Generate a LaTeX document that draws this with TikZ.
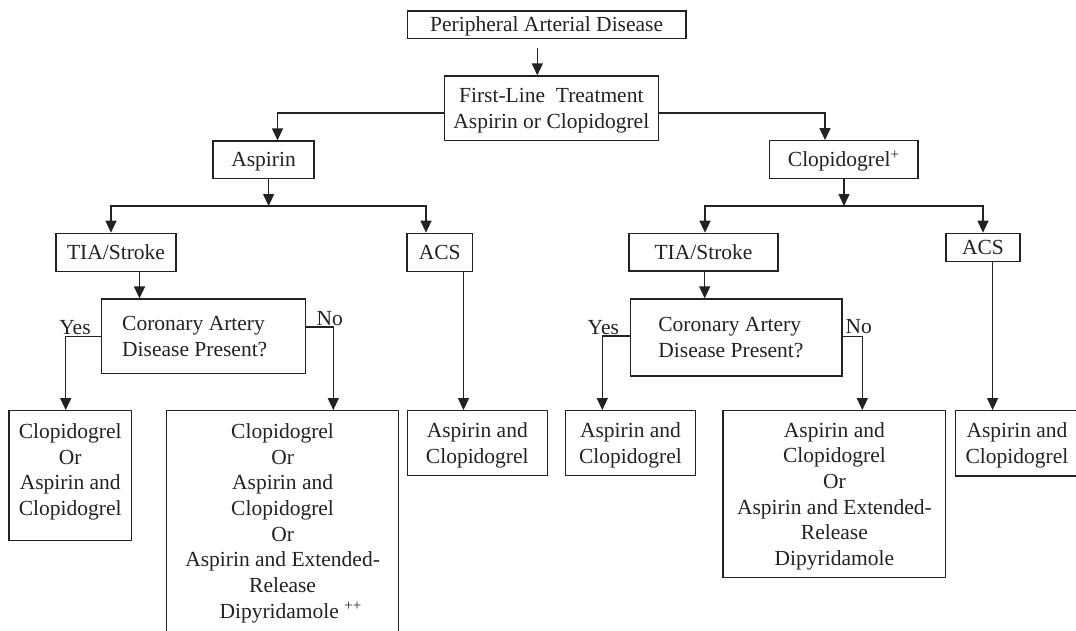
\documentclass[tikz,border=0pt]{standalone}
\usepackage{fontspec}
\setmainfont{Liberation Serif}
\usetikzlibrary{arrows.meta}
\definecolor{ink}{HTML}{222222}
\newcommand\fs{\fontsize{21.5}{25.7}\selectfont}
\begin{document}
\begin{tikzpicture}[x=1pt,y=-1pt,
  box/.style={draw=ink, line width=1.3pt, inner sep=0pt, font=\fs, align=center, text=ink},
  txt/.style={inner sep=0pt, font=\fs, align=center, text=ink},
  l1/.style={text height=14.2pt, text depth=0pt},
  l2/.style={text height=39.9pt, text depth=0pt},
  l4/.style={text height=91.3pt, text depth=0pt},
  l6/.style={text height=142.7pt, text depth=0pt},
  l8/.style={text height=194.1pt, text depth=0pt},
  arr/.style={draw=ink, line width=1.3pt, -{Triangle[length=12pt,width=11pt]}},
  lbl/.style={inner sep=0pt, font=\fs, text=ink}]
\useasboundingbox (0,0) rectangle (1076,630);
\fill[white] (0,0) rectangle (1076,630);

% boxes
\node[box, l1, minimum width=278.7pt, minimum height=27.7pt] (pad) at (546.65,24.85) {Peripheral Arterial Disease};
\node[box, l2, minimum width=214pt, minimum height=64.7pt] (flt) at (551.3,108.35) {First-Line\ \ Treatment\\Aspirin or Clopidogrel};
\node[box, l1, minimum width=101pt, minimum height=37.3pt] (asp) at (263.5,159.65) {Aspirin};
\node[box, l1, minimum width=148.5pt, minimum height=37.6pt] (clo) at (843.75,159.5) {Clopidogrel\textsuperscript{+}};
\node[box, l1, minimum width=120pt, minimum height=38.4pt] (tiaL) at (116,252.5) {TIA/Stroke};
\node[box, l1, minimum width=65.5pt, minimum height=38.4pt] (acsL) at (439.75,252.5) {ACS};
\node[box, l1, minimum width=149pt, minimum height=37.7pt] (tiaR) at (703.5,252.15) {TIA/Stroke};
\node[box, l1, minimum width=74pt, minimum height=28.4pt] (acsR) at (983,247.5) {ACS};

\node[box, minimum width=203.9pt, minimum height=74.3pt] (cadL) at (203.55,336.15) {};
\node[txt, l2, align=left, anchor=west] (cadLt) at (122,336.15) {Coronary Artery\\Disease Present?};
\node[box, minimum width=211.6pt, minimum height=77pt] (cadR) at (736.2,337.5) {};
\node[txt, l2, align=left, anchor=west] (cadRt) at (658.2,337.5) {Coronary Artery\\Disease Present?};

\node[box, minimum width=122.5pt, minimum height=130pt] (resLY) at (70.25,475.7) {};
\node[txt, l4, anchor=north] (resLYt) at ([yshift=-14pt]resLY.north) {Clopidogrel\\Or\\Aspirin and\\Clopidogrel};
\node[box, minimum width=231.8pt, minimum height=249.3pt] (resLN) at (282.6,535.35) {};
\node[txt, l8, anchor=north] (resLNt) at ([yshift=-14pt]resLN.north) {Clopidogrel\\Or\\Aspirin and\\Clopidogrel\\Or\\Aspirin and Extended-\\Release\\\ \ \ Dipyridamole \textsuperscript{++}};
\node[box, l2, minimum width=140pt, minimum height=65pt] (resLA) at (477.3,443.2) {Aspirin and\\Clopidogrel};
\node[box, l2, minimum width=129.8pt, minimum height=65pt] (resRY) at (630.5,443.2) {Aspirin and\\Clopidogrel};
\node[box, l6, minimum width=222.8pt, minimum height=167pt] (resRN) at (834.4,494.2) {Aspirin and\\Clopidogrel\\Or\\Aspirin and Extended-\\Release\\Dipyridamole};
\node[box, minimum width=129.3pt, minimum height=65.3pt] (resRA) at (1020.35,443.35) {};
\node[txt, l2] (resRAt) at (1017,443.35) {Aspirin and\\Clopidogrel};

% helper coordinates
\coordinate (p0) at (537.3,47.7);
\coordinate (h1) at (0,112.9);
\coordinate (sL) at (268.6,206);
\coordinate (sR) at (844,206);

% connectors
\draw[arr] (p0) -- (p0 |- flt.north);
\draw[arr] (flt.west |- h1) -| ([xshift=14pt]asp.north);
\draw[arr] (flt.east |- h1) -| ([xshift=-18.75pt]clo.north);

\draw[arr] (sL |- asp.south) -- (sL);
\draw[arr] (sL) -| ([xshift=-5pt]tiaL.north);
\draw[arr] (sL) -| ([xshift=-13.75pt]acsL.north);

\draw[arr] (sR |- clo.south) -- (sR);
\draw[arr] (sR) -| ([xshift=1.5pt]tiaR.north);
\draw[arr] (sR) -| (acsR.north);

\draw[arr] ([xshift=23.5pt]tiaL.south) -- ([xshift=23.5pt]tiaL.south |- cadL.north);
\draw[arr] ([xshift=1.2pt]tiaR.south) -- ([xshift=1.2pt]tiaR.south |- cadR.north);

\draw[arr] (cadL.west) -| ([xshift=-4.55pt]resLY.north);
\draw[arr] ([yshift=9.15pt]cadL.east) -| ([xshift=50.7pt]resLN.north);
\draw[arr] ([xshift=23.75pt]acsL.south) -- ([xshift=23.75pt]acsL.south |- resLA.north);

\draw[arr] ([yshift=1.5pt]cadR.west) -| ([xshift=-28.2pt]resRY.north);
\draw[arr] ([yshift=0.8pt]cadR.east) -| ([xshift=27.9pt]resRN.north);
\draw[arr] ([xshift=9.6pt]acsR.south) -- ([xshift=9.6pt]acsR.south |- resRA.north);

% labels
\node[lbl, anchor=base] (yesL) at (75,334) {Yes};
\node[lbl, anchor=base] (noL) at (329.7,325) {No};
\node[lbl, anchor=base] (yesR) at (603.3,334) {Yes};
\node[lbl, anchor=base] (noR) at (858.8,333) {No};
\end{tikzpicture}
\end{document}
